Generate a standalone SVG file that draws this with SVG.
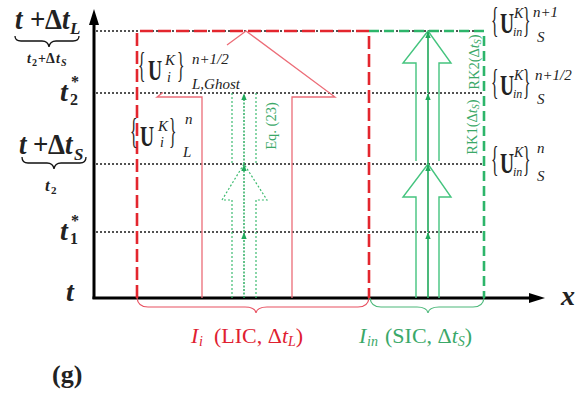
<svg xmlns="http://www.w3.org/2000/svg" width="576" height="396" viewBox="0 0 576 396">
<style>
text{font-family:"Liberation Serif","Times New Roman",serif;}
.b{font-weight:bold;}
.i{font-style:italic;}
.br{font-size:24px;}
.U{font-size:26px;font-weight:bold;}
.ax{stroke:#000;stroke-width:3;fill:none;}
.dot{stroke:#1a1a1a;stroke-width:1.7;stroke-dasharray:2 2;fill:none;}
.rdash{stroke:#e3262e;stroke-width:2.6;stroke-dasharray:13 5;fill:none;}
.rarr{stroke:#ec6d78;stroke-width:1.3;fill:none;}
.gdot{stroke:#3dbb70;stroke-width:1.2;stroke-dasharray:2 2;fill:none;}
.gcen{stroke:#20a858;stroke-width:1.4;stroke-dasharray:2 1.5;fill:none;}
.garr{stroke:#44c47e;stroke-width:1.4;fill:none;}
.gline{stroke:#1fa85a;stroke-width:1.6;fill:none;}
.gdash{stroke:#2db56a;stroke-width:2.6;stroke-dasharray:10 5;fill:none;}
.rb{stroke:#e85060;stroke-width:1.2;fill:none;}
.gb{stroke:#4cb87a;stroke-width:1.2;fill:none;}
.red{fill:#e02030;}
.grn{fill:#3aa868;}
.lab{fill:#222;}
</style>
<defs>
<marker id="ga" viewBox="0 0 10 10" refX="9" refY="5" markerWidth="7" markerHeight="7" markerUnits="userSpaceOnUse" orient="auto">
<path d="M0,1 L10,5 L0,9 z" fill="#1fa85a"/>
</marker>
</defs>

<g id="gridlines">
<line class="dot" x1="96" y1="31" x2="484" y2="31"/>
<line class="dot" x1="96" y1="93" x2="484" y2="93"/>
<line class="dot" x1="96" y1="164" x2="484" y2="164"/>
<line class="dot" x1="96" y1="232" x2="484" y2="232"/>
</g>

<g id="axes">
<line class="ax" x1="94" y1="299" x2="94" y2="22"/>
<path d="M94,9 L99,25 L89,25 z" fill="#000"/>
<line class="ax" x1="92.5" y1="298" x2="532" y2="298"/>
<path d="M545,298 L529,303 L529,293 z" fill="#000"/>
</g>

<g id="region-LIC">
<path class="rdash" d="M137,298 V31 H369 V298"/>
<path class="rarr" d="M202,298 V97 H157 L163,92.5 M227,45 L246,31 L335,97 H292 V298"/>
</g>

<g id="region-SIC">
<path class="gdash" d="M369,31 H484 V298"/>
<path class="garr" d="M416,161 V63 H403 L428,31 L451,63 H439 V161"/>
<path class="garr" d="M416,298 V197 H403 L428,164 L451,197 H439 V298"/>
</g>

<g id="connectors">
<path class="gdot" d="M232,93 V164 M256,93 V164"/>
<path class="gdot" d="M232,298 V200 H222 L244,164 L267,200 H256 V298"/>
<line class="gcen" x1="244" y1="298" x2="244" y2="233" marker-end="url(#ga)"/>
<line class="gcen" x1="244" y1="232" x2="244" y2="165" marker-end="url(#ga)"/>
<line class="gcen" x1="244" y1="164" x2="244" y2="94" marker-end="url(#ga)"/>
<line class="gline" x1="428" y1="298" x2="428" y2="233" marker-end="url(#ga)"/>
<line class="gline" x1="428" y1="232" x2="428" y2="165" marker-end="url(#ga)"/>
<line class="gline" x1="428" y1="164" x2="428" y2="94" marker-end="url(#ga)"/>
<line class="gline" x1="428" y1="93" x2="428" y2="32" marker-end="url(#ga)"/>
<path class="rb" d="M137,298 Q138,307 148,307 H245 Q255,307 256,313 Q257,307 267,307 H358 Q368,307 369,298"/>
<path class="gb" d="M370,298 Q371,307 381,307 H417 Q427,307 428,313 Q429,307 439,307 H473 Q483,307 484,298"/>
<path d="M15,36 Q15,41 21,41 H42 Q48,41 49,47 Q50,41 56,41 H73 Q79,41 79,36" stroke="#111" stroke-width="1.3" fill="none"/>
<path d="M22,157 Q22,163 28,163 H47 Q53,163 54,169 Q55,163 61,163 H80 Q86,163 86,157" stroke="#111" stroke-width="1.3" fill="none"/>
</g>

<g id="axis-labels" class="lab">
<text class="b" font-size="27" transform="translate(0,29) scale(1,1.12)"><tspan class="i" x="15">t</tspan><tspan x="30">+</tspan><tspan x="45">Δ</tspan><tspan class="i" x="62">t</tspan></text>
<text class="b i" font-size="17" x="70" y="34">L</text>
<text class="b" font-size="14" y="63"><tspan class="i" x="27">t</tspan><tspan font-size="10" x="32" y="66">2</tspan><tspan x="38" y="63">+Δ</tspan><tspan class="i" x="56">t</tspan><tspan class="i" font-size="10" x="61" y="66">S</tspan></text>
<text class="b i" font-size="28" x="60" y="101">t</text>
<text class="b" font-size="16" x="70" y="105">2</text>
<text class="b" font-size="16" x="71" y="87">*</text>
<text class="b" font-size="27" transform="translate(0,154) scale(1,1.12)"><tspan class="i" x="19">t</tspan><tspan x="33">+</tspan><tspan x="48">Δ</tspan><tspan class="i" x="65">t</tspan></text>
<text class="b i" font-size="17" x="74" y="160">S</text>
<text class="b i" font-size="17" x="45" y="191">t</text>
<text class="b" font-size="11" x="51" y="194">2</text>
<text class="b i" font-size="28" x="60" y="240">t</text>
<text class="b" font-size="16" x="70" y="244">1</text>
<text class="b" font-size="16" x="71" y="226">*</text>
<text class="b i" font-size="28" x="66" y="301">t</text>
<text class="b i" font-size="28" x="561" y="305">x</text>
<text class="b" font-size="26" x="52" y="383">(g)</text>
</g>

<g id="label-ghost" class="lab">
<text class="br" transform="translate(138,77) scale(0.65,1.45)">{</text>
<text class="U" transform="translate(148,80) scale(0.75,1.1)">U</text>
<text class="i" font-size="15" x="165" y="65">K</text>
<text class="i" font-size="14" x="167" y="82">i</text>
<text class="br" transform="translate(177,77) scale(0.65,1.45)">}</text>
<text class="i" font-size="15" x="192" y="64">n+1/2</text>
<text class="i" font-size="15" x="192" y="89">L,Ghost</text>
</g>

<g id="label-Ln" class="lab">
<text class="br" transform="translate(130,143) scale(0.65,1.45)">{</text>
<text class="U" transform="translate(140,146) scale(0.75,1.1)">U</text>
<text class="i" font-size="15" x="158" y="131">K</text>
<text class="i" font-size="14" x="160" y="147">i</text>
<text class="br" transform="translate(169,143) scale(0.65,1.45)">}</text>
<text class="i" font-size="15" x="185" y="124">n</text>
<text class="i" font-size="15" x="183" y="157">L</text>
</g>

<g id="label-S-n1" class="lab">
<text class="br" transform="translate(491,32) scale(0.65,1.45)">{</text>
<text class="U" transform="translate(500,33) scale(0.75,1.1)">U</text>
<text class="i" font-size="14" x="514" y="18">K</text>
<text class="i" font-size="12" x="513" y="36">in</text>
<text class="br" transform="translate(523,32) scale(0.65,1.45)">}</text>
<text class="i" font-size="15" x="533" y="17">n+1</text>
<text class="i" font-size="15" x="537" y="42">S</text>
</g>

<g id="label-S-nh" class="lab">
<text class="br" transform="translate(491,94) scale(0.65,1.45)">{</text>
<text class="U" transform="translate(500,95) scale(0.75,1.1)">U</text>
<text class="i" font-size="14" x="514" y="80">K</text>
<text class="i" font-size="12" x="513" y="98">in</text>
<text class="br" transform="translate(523,94) scale(0.65,1.45)">}</text>
<text class="i" font-size="15" x="535" y="80">n+1/2</text>
<text class="i" font-size="15" x="537" y="104">S</text>
</g>

<g id="label-S-n" class="lab">
<text class="br" transform="translate(491,171) scale(0.65,1.45)">{</text>
<text class="U" transform="translate(500,173) scale(0.75,1.1)">U</text>
<text class="i" font-size="14" x="514" y="157">K</text>
<text class="i" font-size="12" x="513" y="176">in</text>
<text class="br" transform="translate(523,171) scale(0.65,1.45)">}</text>
<text class="i" font-size="15" x="537" y="153">n</text>
<text class="i" font-size="15" x="537" y="181">S</text>
</g>

<g id="label-eq" class="grn">
<text font-size="14.5" text-anchor="middle" transform="translate(276,126) rotate(-90)">Eq. (23)</text>
<text font-size="14.5" text-anchor="middle" transform="translate(477,127) rotate(-90)">RK1(Δ<tspan class="i">t</tspan><tspan class="i" font-size="10" dy="2">S</tspan><tspan dy="-2">)</tspan></text>
<text font-size="14.5" text-anchor="middle" transform="translate(479,62) rotate(-90)">RK2(Δ<tspan class="i">t</tspan><tspan class="i" font-size="10" dy="2">S</tspan><tspan dy="-2">)</tspan></text>
</g>

<g id="label-LIC" class="red">
<text font-size="22" y="343"><tspan class="i" x="191">I</tspan><tspan class="i" font-size="14" x="199" y="346">i</tspan><tspan x="214" y="343">(LIC, Δ</tspan><tspan class="i">t</tspan><tspan class="i" font-size="14" y="346">L</tspan><tspan y="343">)</tspan></text>
</g>
<g id="label-SIC" class="grn">
<text font-size="22" y="343"><tspan class="i" x="359">I</tspan><tspan class="i" font-size="14" x="367" y="346">in</tspan><tspan x="385" y="343">(SIC, Δ</tspan><tspan class="i">t</tspan><tspan class="i" font-size="14" y="346">S</tspan><tspan y="343">)</tspan></text>
</g>
</svg>
